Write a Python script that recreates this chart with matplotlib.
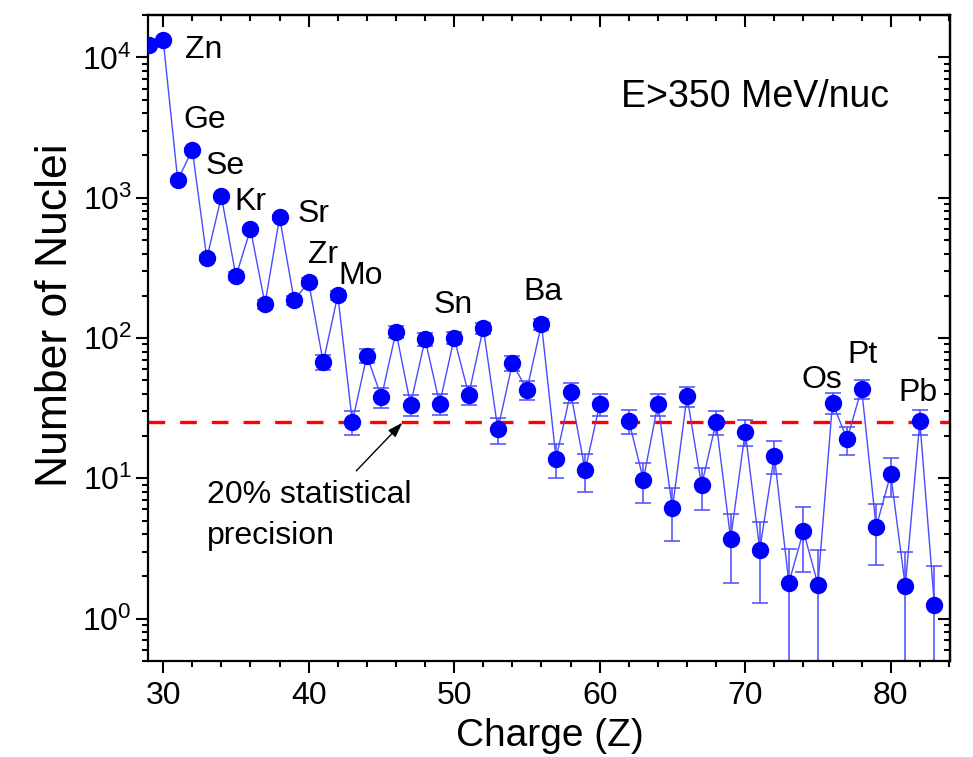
import numpy as np
import matplotlib.pyplot as plt
from matplotlib.ticker import MultipleLocator, LogLocator, NullFormatter

plt.rcParams['font.family'] = ['Liberation Sans', 'DejaVu Sans']
plt.rcParams['mathtext.fontset'] = 'custom'
plt.rcParams['mathtext.rm'] = 'Liberation Sans'
plt.rcParams['mathtext.it'] = 'Liberation Sans:italic'
plt.rcParams['mathtext.bf'] = 'Liberation Sans:bold'

# charge and counts (Z=61 has no point)
charge = list(range(29, 84))
counts = [12200, 13300, 1330, 2200, 370, 1020, 276, 595, 175, 725,
          186, 250, 67, 202, 25.2, 75, 37.8, 111, 33.5, 98,
          34, 100, 39.5, 118, 22.3, 66, 42.8, 126, 13.8, 41,
          11.4, 33.8, np.nan, 25.8, 9.8, 33.8, 6.1, 38.5, 8.9, 25.2,
          3.7, 21.5, 3.1, 14.5, 1.8, 4.2, 1.75, 34.5, 19, 43.5,
          4.5, 10.7, 1.7, 25.6, 1.25]
errors = [110, 115, 36, 47, 19, 32, 17, 24, 13, 27,
          14, 16, 8.2, 14, 5.0, 8.7, 6.1, 10.5, 5.8, 9.9,
          5.8, 10, 6.3, 10.9, 4.7, 8.1, 6.5, 11.2, 3.7, 6.4,
          3.4, 5.8, np.nan, 5.1, 3.1, 5.8, 2.5, 6.2, 3.0, 5.0,
          1.9, 4.6, 1.8, 3.8, 1.34, 2.05, 1.32, 5.9, 4.4, 6.6,
          2.1, 3.3, 1.3, 5.1, 1.12]

labels = ['Zn', 'Ge', 'Se', 'Kr', 'Sr', 'Zr', 'Mo', 'Sn', 'Ba', 'Os', 'Pt', 'Pb']
label_z = [32.75, 32.82, 34.26, 35.98, 40.32, 41.0, 43.55, 49.94, 56.13, 75.25, 78.07, 81.86]
label_y = [9900, 3140, 1478, 819, 673, 343, 243, 151, 187, 44.2, 66.6, 35.7]

threshold = 25

fig = plt.figure(figsize=(9.73, 7.57), dpi=100)
ax = fig.add_axes([0.152, 0.127, 0.824, 0.853])

ax.errorbar(charge, counts, yerr=errors, fmt='none', ecolor='#4a4aff',
            elinewidth=1.1, capsize=6, capthick=1.1, zorder=2)
ax.plot(charge, counts, '-', color='#4a4aff', lw=1.0, zorder=3)
ax.plot(charge, counts, 'o', color='#0000ff', ms=11.5, mec='#0000ff', zorder=4)

ax.axhline(threshold, color='#ff0000', lw=2.4, dashes=(5, 4.5), zorder=1)

for lab, zx, zy in zip(labels, label_z, label_y):
    ax.text(zx, zy, lab, fontsize=23, ha='center', va='baseline')

ax.text(0.757, 0.858, 'E>350 MeV/nuc', transform=ax.transAxes,
        fontsize=27, ha='center', va='baseline')

ax.text(33.03, 9.8, '20% statistical\nprecision', fontsize=23,
        ha='left', va='top', linespacing=1.5)
ax.annotate('', xy=(46.44, 24.9), xytext=(43.27, 11.3),
            arrowprops=dict(arrowstyle='-|>,head_length=0.9,head_width=0.3',
                            color='black', lw=1.0, shrinkA=0, shrinkB=0))

ax.set_yscale('log')
ax.set_xlim(28.95, 84.05)
ax.set_ylim(0.5, 2e4)

ax.xaxis.set_major_locator(MultipleLocator(10))
ax.xaxis.set_minor_locator(MultipleLocator(2))
ax.yaxis.set_major_locator(LogLocator(base=10, numticks=10))
ax.yaxis.set_minor_locator(LogLocator(base=10, subs=np.arange(2, 10), numticks=10))
ax.yaxis.set_minor_formatter(NullFormatter())

ax.tick_params(which='both', direction='out', width=1.5, labelsize=23,
               top=False, right=False)
ax.tick_params(which='major', length=8.5)
ax.tick_params(which='minor', length=4.3)
ax.tick_params(axis='x', pad=6)
ax.tick_params(axis='y', pad=3)

for sp in ax.spines.values():
    sp.set_linewidth(1.6)

top = ax.secondary_xaxis('top')
top.xaxis.set_major_locator(MultipleLocator(10))
top.xaxis.set_minor_locator(MultipleLocator(2))
top.tick_params(which='both', direction='in', width=1.5, labeltop=False)
top.tick_params(which='major', length=8.5)
top.tick_params(which='minor', length=4.3)
top.spines['top'].set_linewidth(1.6)

right = ax.secondary_yaxis('right')
right.yaxis.set_major_locator(LogLocator(base=10, numticks=10))
right.yaxis.set_minor_locator(LogLocator(base=10, subs=np.arange(2, 10), numticks=10))
right.tick_params(which='both', direction='in', width=1.5, labelright=False)
right.tick_params(which='major', length=8.5)
right.tick_params(which='minor', length=4.3)
right.spines['right'].set_linewidth(1.6)

ax.set_xlabel('Charge (Z)', fontsize=28)
ax.set_ylabel('Number of Nuclei', fontsize=32)
ax.xaxis.set_label_coords(0.501, -0.088)
ax.yaxis.set_label_coords(-0.09, 0.536)

plt.savefig('out.png', dpi=100)
